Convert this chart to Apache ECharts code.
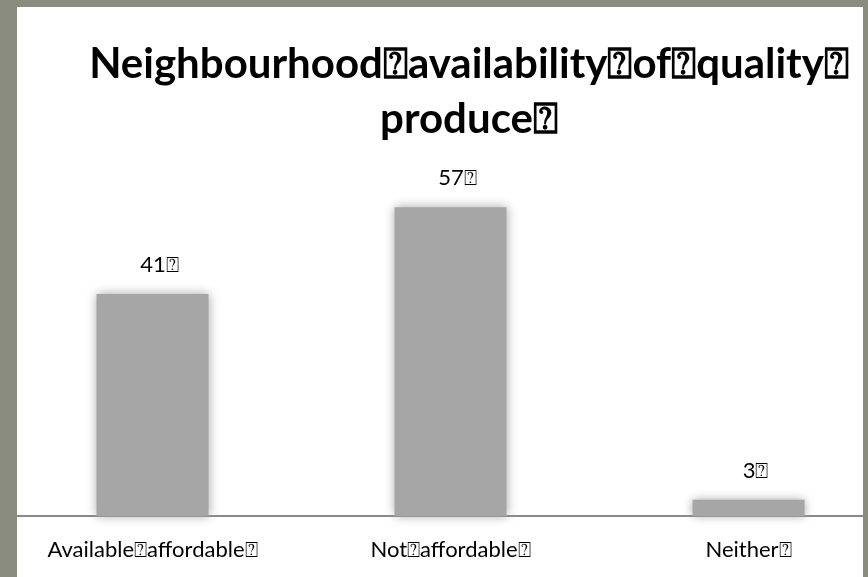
<!DOCTYPE html>
<html>
<head>
<meta charset="utf-8">
<script src="https://cdn.jsdelivr.net/npm/echarts@6/dist/echarts.min.js"></script>
<style>
  html, body { margin: 0; padding: 0; background: #8a8c7f; }
  #chart { width: 868px; height: 577px; }
</style>
</head>
<body>
<div id="chart"></div>
<script>
// Survey answers: how available and affordable quality produce is locally
const titleLines = ['Neighbourhood⍰availability⍰of⍰quality⍰', 'produce⍰'];
const categories = ['Available⍰affordable⍰', 'Not⍰affordable⍰', 'Neither⍰'];
const values = [41, 57, 3];
const categoryPositions = [0, 1, 2];

const FONT = 'Lato, "Open Sans", "DejaVu Sans", sans-serif';

const chart = echarts.init(document.getElementById('chart'), null, { renderer: 'canvas' });

chart.setOption({
  backgroundColor: '#8a8c7f',
  animation: false,
  graphic: [{
    type: 'rect',
    z: -10,
    shape: { x: 17, y: 7, width: 846, height: 570 },
    style: { fill: '#ffffff' }
  }],
  title: {
    text: titleLines.join('\n'),
    left: 464,
    top: 32,
    textAlign: 'center',
    textStyle: {
      fontFamily: FONT,
      fontWeight: 'bold',
      fontSize: 42,
      lineHeight: 55,
      color: '#000000'
    }
  },
  grid: { left: 17, right: 5, top: 191, bottom: 61, containLabel: false },
  xAxis: {
    type: 'value',
    min: -0.4547,
    max: 2.384,
    splitLine: { show: false },
    axisTick: { show: false },
    axisLine: { show: true, onZero: false, lineStyle: { color: '#898989', width: 2 } },
    axisLabel: {
      customValues: categoryPositions,
      formatter: v => categories[Math.round(v)],
      margin: 23,
      fontFamily: FONT,
      fontSize: 22,
      color: '#000000'
    }
  },
  yAxis: {
    type: 'value',
    min: 0,
    max: 60,
    show: false
  },
  series: [{
    type: 'bar',
    barWidth: 112,
    data: values.map((v, i) => [categoryPositions[i], v]),
    itemStyle: {
      color: '#a6a6a6',
      shadowBlur: 10,
      shadowColor: '#a6a6a6'
    },
    label: {
      show: true,
      position: 'top',
      distance: 18,
      offset: [7, 0],
      formatter: p => values[p.dataIndex] + '⍰',
      fontFamily: FONT,
      fontSize: 22,
      color: '#000000'
    }
  }]
});
</script>
</body>
</html>
